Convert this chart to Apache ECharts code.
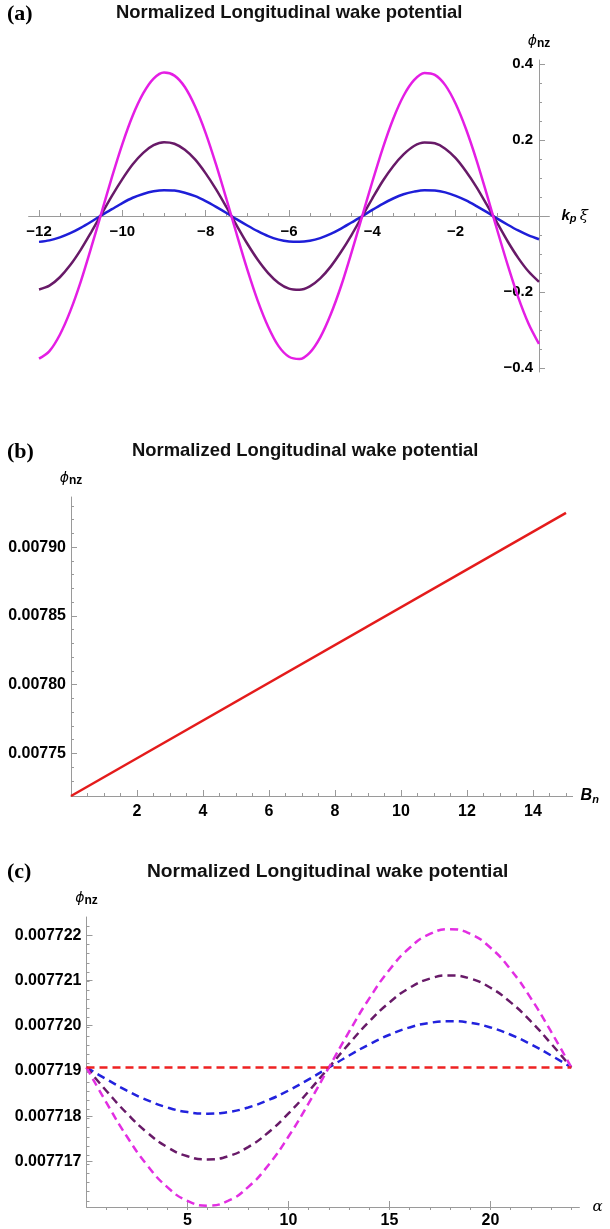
<!DOCTYPE html>
<html>
<head>
<meta charset="utf-8">
<script src="https://cdn.jsdelivr.net/npm/echarts@6/dist/echarts.min.js"></script>
<style>
  html, body { margin: 0; padding: 0; background: #fff; }
  #chart { width: 610px; height: 1229px; }
</style>
</head>
<body>
<div id="chart"></div>
<script>
// ---- panel (a) : wake potential vs kp xi
const aX = [-12, -11.75, -11.5, -11.25, -11, -10.75, -10.5, -10.25, -10, -9.75, -9.5, -9.25, -9, -8.75, -8.5, -8.25, -8, -7.75, -7.5, -7.25, -7, -6.75, -6.5, -6.25, -6, -5.75, -5.5, -5.25, -5, -4.75, -4.5, -4.25, -4, -3.75, -3.5, -3.25, -3, -2.75, -2.5, -2.25, -2, -1.75, -1.5, -1.25, -1, -0.75, -0.5, -0.25, 0];
const aMagenta = [-0.375, -0.355, -0.312, -0.250, -0.173, -0.084, 0.009, 0.102, 0.189, 0.264, 0.322, 0.361, 0.377, 0.369, 0.339, 0.287, 0.218, 0.135, 0.044, -0.050, -0.141, -0.223, -0.291, -0.342, -0.370, -0.376, -0.359, -0.319, -0.259, -0.184, -0.096, -0.003, 0.090, 0.178, 0.255, 0.316, 0.357, 0.376, 0.371, 0.344, 0.295, 0.228, 0.147, 0.056, -0.038, -0.129, -0.213, -0.283, -0.336];
const aPurple = [-0.193, -0.183, -0.161, -0.129, -0.089, -0.043, 0.005, 0.053, 0.097, 0.136, 0.166, 0.186, 0.194, 0.190, 0.174, 0.148, 0.112, 0.070, 0.023, -0.026, -0.073, -0.115, -0.150, -0.176, -0.191, -0.194, -0.185, -0.164, -0.133, -0.094, -0.050, -0.002, 0.046, 0.092, 0.131, 0.162, 0.184, 0.193, 0.191, 0.177, 0.152, 0.117, 0.076, 0.029, -0.019, -0.067, -0.110, -0.146, -0.173];
const aBlue = [-0.068, -0.064, -0.056, -0.045, -0.031, -0.015, 0.002, 0.018, 0.034, 0.048, 0.058, 0.065, 0.068, 0.067, 0.061, 0.052, 0.039, 0.024, 0.008, -0.009, -0.025, -0.040, -0.053, -0.062, -0.067, -0.068, -0.065, -0.058, -0.047, -0.033, -0.017, -0.001, 0.016, 0.032, 0.046, 0.057, 0.064, 0.068, 0.067, 0.062, 0.053, 0.041, 0.026, 0.010, -0.007, -0.023, -0.038, -0.051, -0.061];
const aXTicks = [-12, -10, -8, -6, -4, -2];
const aYTicks = [-0.4, -0.2, 0.2, 0.4];

// ---- panel (b) : wake potential vs Bn
const bX = [0, 15];
const bRed = [0.007719, 0.007925];
const bXTicks = [2, 4, 6, 8, 10, 12, 14];
const bYTicks = [0.00775, 0.0078, 0.00785, 0.0079];

// ---- panel (c) : wake potential vs alpha
const cX = [0, 1, 2, 3, 4, 5, 6, 7, 8, 9, 10, 11, 12, 13, 14, 15, 16, 17, 18, 19, 20, 21, 22, 23, 24];
const cBlue = [0.00771908, 0.007718816, 0.00771857, 0.007718359, 0.007718197, 0.007718095, 0.00771806, 0.007718095, 0.007718197, 0.007718359, 0.00771857, 0.007718816, 0.00771908, 0.007719344, 0.00771959, 0.007719801, 0.007719963, 0.007720065, 0.0077201, 0.007720065, 0.007719963, 0.007719801, 0.00771959, 0.007719344, 0.00771908];
const cPurple = [0.00771908, 0.007718555, 0.007718065, 0.007717645, 0.007717322, 0.007717119, 0.00771705, 0.007717119, 0.007717322, 0.007717645, 0.007718065, 0.007718555, 0.00771908, 0.007719605, 0.007720095, 0.007720515, 0.007720838, 0.007721041, 0.00772111, 0.007721041, 0.007720838, 0.007720515, 0.007720095, 0.007719605, 0.00771908];
const cMagenta = [0.00771908, 0.007718291, 0.007717555, 0.007716923, 0.007716439, 0.007716134, 0.00771603, 0.007716134, 0.007716439, 0.007716923, 0.007717555, 0.007718291, 0.00771908, 0.007719869, 0.007720605, 0.007721237, 0.007721721, 0.007722026, 0.00772213, 0.007722026, 0.007721721, 0.007721237, 0.007720605, 0.007719869, 0.00771908];
const cRedX = [0, 24];
const cRed = [0.00771908, 0.00771908];
const cXTicks = [5, 10, 15, 20];
const cYTicks = [0.007717, 0.007718, 0.007719, 0.00772, 0.007721, 0.007722];

const TITLE = 'Normalized Longitudinal wake potential';

// small ticks between the labelled ones
function steps(from, to, step, digits) {
  let out = [];
  let n = Math.round((to - from) / step);
  for (let i = 0; i <= n; i++) out.push(+(from + i * step).toFixed(digits));
  return out;
}

const axisGrey = '#9a9a9a';
const labelFont = { color: '#000', fontFamily: 'Liberation Sans', fontWeight: 'bold' };
const minus = v => String(v).replace('-', '\u2212');

function phiName() {
  return {
    name: '{f|\u03d5}{s|nz}',
    nameLocation: 'end',
    nameGap: 10,
    nameTextStyle: {
      align: 'center',
      rich: {
        f: { fontFamily: 'DejaVu Sans', fontStyle: 'italic', fontSize: 14, color: '#000' },
        s: { fontFamily: 'Liberation Sans', fontWeight: 'bold', fontSize: 12, color: '#000', padding: [5, 0, 0, 0] }
      }
    }
  };
}

// labelled axis
function mainAxis(gi, min, max, ticks, fmt, size, margin, extra) {
  let ax = {
    type: 'value', gridIndex: gi, min: min, max: max,
    axisLine: { onZero: false, lineStyle: { color: axisGrey, width: 1 } },
    axisTick: { inside: true, length: 6, customValues: ticks, lineStyle: { color: axisGrey } },
    axisLabel: Object.assign({ customValues: ticks, formatter: fmt, fontSize: size, margin: margin }, labelFont),
    splitLine: { show: false }
  };
  return Object.assign(ax, extra || {});
}
// overlay axis carrying only the short ticks
function minorAxis(gi, min, max, ticks, extra) {
  let ax = {
    type: 'value', gridIndex: gi, min: min, max: max,
    axisLine: { show: false, onZero: false },
    axisTick: { inside: true, length: 3, customValues: ticks, lineStyle: { color: axisGrey } },
    axisLabel: { show: false },
    splitLine: { show: false }
  };
  return Object.assign(ax, extra || {});
}

const gA = { left: 28.6, right: 60.6, top: 60, height: 312 };
const gB = { left: 71, right: 37.4, top: 497, height: 299 };
const gC = { left: 86.5, right: 30.6, top: 917, height: 293 };

// (a): x axis lifted to y = 0, y axis moved in to x = 0
const aXShift = -156;
const aYShift = -10.4;

let aYMain = mainAxis(0, -0.41, 0.41, aYTicks, minus, 15, 6, phiName());
aYMain.position = 'right';
aYMain.offset = aYShift;
aYMain.axisTick.inside = false;
aYMain.axisLabel.inside = true;

let aYMinor = minorAxis(1, -0.41, 0.41, steps(-0.4, 0.4, 0.05, 2), { position: 'right', offset: aYShift });
aYMinor.axisTick.inside = false;

let option = {
  animation: false,
  backgroundColor: '#fff',
  title: [
    { text: '(a)', left: 7, top: 3, padding: 0, textStyle: { fontFamily: 'Liberation Serif', fontWeight: 'bold', fontSize: 22, color: '#000' } },
    { text: TITLE, left: 116, top: 4, padding: 0, textStyle: { fontFamily: 'Liberation Sans', fontWeight: 'bold', fontSize: 18.4, color: '#111' } },
    { text: '(b)', left: 7, top: 441, padding: 0, textStyle: { fontFamily: 'Liberation Serif', fontWeight: 'bold', fontSize: 22, color: '#000' } },
    { text: TITLE, left: 132, top: 442, padding: 0, textStyle: { fontFamily: 'Liberation Sans', fontWeight: 'bold', fontSize: 18.4, color: '#111' } },
    { text: '(c)', left: 7, top: 861, padding: 0, textStyle: { fontFamily: 'Liberation Serif', fontWeight: 'bold', fontSize: 22, color: '#000' } },
    { text: TITLE, left: 147, top: 862, padding: 0, textStyle: { fontFamily: 'Liberation Sans', fontWeight: 'bold', fontSize: 19.2, color: '#111' } }
  ],
  grid: [gA, gA, gB, gB, gC, gC],
  xAxis: [
    mainAxis(0, -12.25, 0.25, aXTicks, minus, 15, 8, {
      position: 'bottom', offset: aXShift,
      name: '{k|k}{p|p} {x|\u03be}', nameLocation: 'end', nameGap: 12,
      nameTextStyle: { rich: {
        k: { fontFamily: 'Liberation Sans', fontStyle: 'italic', fontWeight: 'bold', fontSize: 15, color: '#000' },
        p: { fontFamily: 'Liberation Sans', fontStyle: 'italic', fontWeight: 'bold', fontSize: 11, color: '#000', padding: [6, 0, 0, 0] },
        x: { fontFamily: 'DejaVu Serif', fontStyle: 'italic', fontSize: 15, color: '#000' }
      } }
    }),
    minorAxis(1, -12.25, 0.25, steps(-12, 0, 0.5, 2), { position: 'bottom', offset: aXShift }),
    mainAxis(2, 0, 15.2, bXTicks, null, 16, 8, {
      name: '{b|B}{n|n}', nameLocation: 'end', nameGap: 8,
      nameTextStyle: { rich: {
        b: { fontFamily: 'Liberation Sans', fontStyle: 'italic', fontWeight: 'bold', fontSize: 16, color: '#000' },
        n: { fontFamily: 'Liberation Sans', fontStyle: 'italic', fontWeight: 'bold', fontSize: 11, color: '#000', padding: [8, 0, 0, 0] }
      } }
    }),
    minorAxis(3, 0, 15.2, steps(0, 15, 0.5, 2)),
    mainAxis(4, 0, 24.4, cXTicks, null, 16, 6, {
      name: '\u03b1', nameLocation: 'end', nameGap: 13,
      nameTextStyle: { fontFamily: 'DejaVu Serif', fontStyle: 'italic', fontSize: 15, color: '#000' }
    }),
    minorAxis(5, 0, 24.4, steps(1, 24, 1, 0))
  ],
  yAxis: [
    aYMain,
    aYMinor,
    mainAxis(2, 0.007719, 0.0079365, bYTicks, v => v.toFixed(5), 16, 5, phiName()),
    minorAxis(3, 0.007719, 0.0079365, steps(0.00772, 0.00793, 0.00001, 5)),
    mainAxis(4, 0.007716, 0.0077224, cYTicks, v => v.toFixed(6), 16, 5, phiName()),
    minorAxis(5, 0.007716, 0.0077224, steps(0.0077162, 0.0077222, 0.0000002, 7))
  ],
  series: [
    { type: 'line', xAxisIndex: 0, yAxisIndex: 0, data: aX.map((x, i) => [x, aBlue[i]]), smooth: 0.3, showSymbol: false, lineStyle: { color: '#1e1ed8', width: 2.5 } },
    { type: 'line', xAxisIndex: 0, yAxisIndex: 0, data: aX.map((x, i) => [x, aPurple[i]]), smooth: 0.3, showSymbol: false, lineStyle: { color: '#681a68', width: 2.5 } },
    { type: 'line', xAxisIndex: 0, yAxisIndex: 0, data: aX.map((x, i) => [x, aMagenta[i]]), smooth: 0.3, showSymbol: false, lineStyle: { color: '#e41ee4', width: 2.5 } },

    { type: 'line', xAxisIndex: 2, yAxisIndex: 2, data: bX.map((x, i) => [x, bRed[i]]), showSymbol: false, lineStyle: { color: '#e41b1b', width: 2.5 } },

    { type: 'line', xAxisIndex: 4, yAxisIndex: 4, data: cX.map((x, i) => [x, cBlue[i]]), smooth: true, showSymbol: false, lineStyle: { color: '#2222dd', width: 2.5, type: [8, 5] } },
    { type: 'line', xAxisIndex: 4, yAxisIndex: 4, data: cX.map((x, i) => [x, cPurple[i]]), smooth: true, showSymbol: false, lineStyle: { color: '#681a68', width: 2.5, type: [8, 5] } },
    { type: 'line', xAxisIndex: 4, yAxisIndex: 4, data: cX.map((x, i) => [x, cMagenta[i]]), smooth: true, showSymbol: false, lineStyle: { color: '#e22ee2', width: 2.5, type: [8, 5] } },
    { type: 'line', xAxisIndex: 4, yAxisIndex: 4, data: cRedX.map((x, i) => [x, cRed[i]]), showSymbol: false, lineStyle: { color: '#ee2222', width: 2.5, type: [8, 5] } }
  ]
};

let myChart = echarts.init(document.getElementById('chart'), null, { renderer: 'canvas' });
myChart.setOption(option);
</script>
</body>
</html>
